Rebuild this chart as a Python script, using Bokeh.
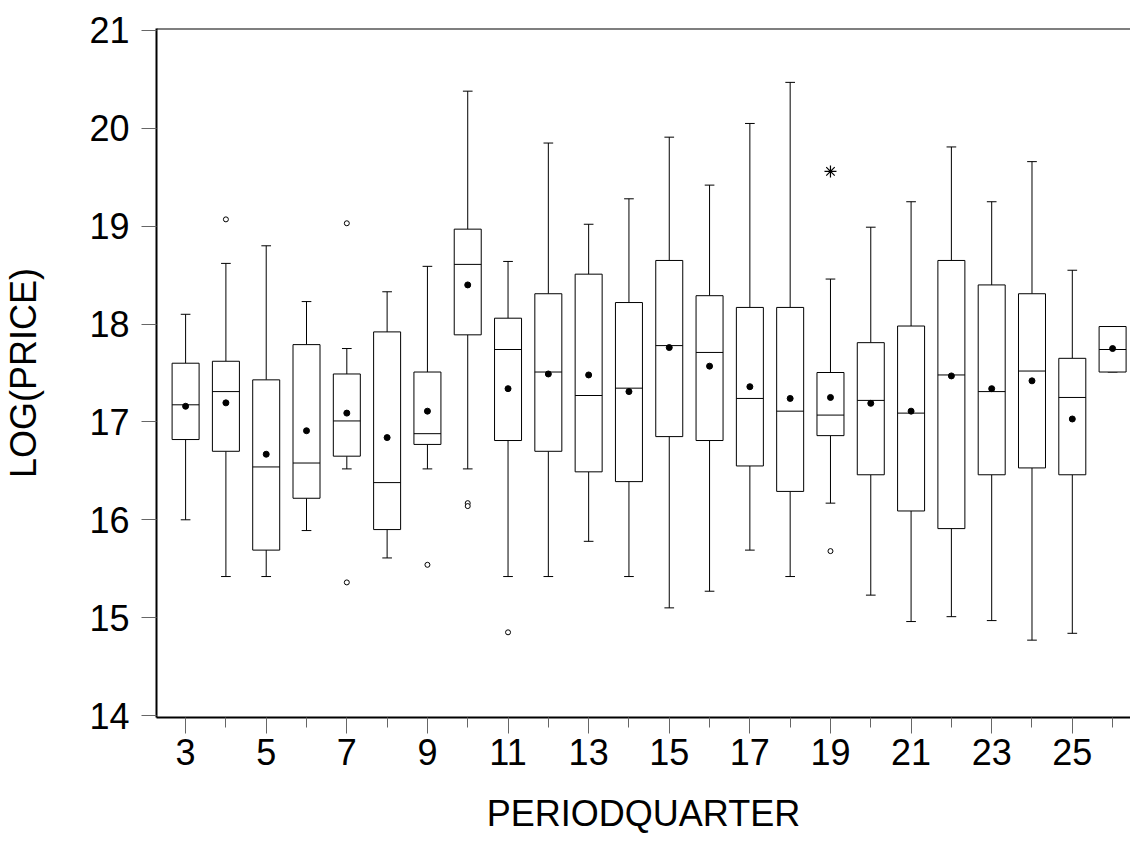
from bokeh.plotting import figure
from bokeh.models import Range1d, FixedTicker, Span
from bokeh.embed import file_html
from bokeh.resources import INLINE

# ---- data ----
periods = [3, 4, 5, 6, 7, 8, 9, 10, 11, 12, 13, 14, 15, 16, 17, 18, 19, 20, 21, 22, 23, 24, 25, 26]
whisker_hi = [18.10, 18.62, 18.80, 18.23, 17.75, 18.33, 18.59, 20.38, 18.64, 19.85, 19.02, 19.28,
              19.91, 19.42, 20.05, 20.47, 18.46, 18.99, 19.25, 19.81, 19.25, 19.66, 18.55, 17.975]
q3 = [17.60, 17.62, 17.43, 17.79, 17.49, 17.92, 17.51, 18.97, 18.06, 18.31, 18.51, 18.22,
      18.65, 18.29, 18.17, 18.17, 17.505, 17.81, 17.98, 18.65, 18.40, 18.31, 17.65, 17.975]
median = [17.175, 17.31, 16.54, 16.58, 17.01, 16.38, 16.88, 18.61, 17.74, 17.51, 17.27, 17.345,
          17.78, 17.71, 17.24, 17.11, 17.07, 17.22, 17.09, 17.48, 17.31, 17.52, 17.25, 17.74]
mean = [17.16, 17.195, 16.67, 16.91, 17.09, 16.84, 17.11, 18.40, 17.34, 17.49, 17.48, 17.31,
        17.76, 17.57, 17.36, 17.24, 17.25, 17.19, 17.11, 17.47, 17.34, 17.42, 17.03, 17.75]
q1 = [16.82, 16.70, 15.69, 16.22, 16.65, 15.90, 16.77, 17.89, 16.81, 16.70, 16.49, 16.39,
      16.85, 16.81, 16.55, 16.29, 16.86, 16.46, 16.09, 15.91, 16.46, 16.53, 16.46, 17.51]
whisker_lo = [16.00, 15.42, 15.42, 15.89, 16.52, 15.61, 16.52, 16.52, 15.42, 15.42, 15.78, 15.42,
              15.10, 15.27, 15.69, 15.42, 16.17, 15.23, 14.96, 15.01, 14.97, 14.77, 14.84, 17.51]
outlier_period = [4, 7, 7, 9, 10, 10, 11, 19]
outlier_value = [19.07, 19.03, 15.36, 15.54, 16.17, 16.14, 14.85, 15.68]
far_outlier_period = [19]
far_outlier_value = [19.56]

x_ticks_major = [3, 5, 7, 9, 11, 13, 15, 17, 19, 21, 23, 25]
x_ticks_minor = [4, 6, 8, 10, 12, 14, 16, 18, 20, 22, 24, 26]
y_ticks = [14, 15, 16, 17, 18, 19, 20, 21]

# ---- figure ----
FONT = "Liberation Sans"
BOX_W = 0.67
CAP_W = 0.24

p = figure(width=1130, height=846, output_backend="svg", toolbar_location=None,
           x_range=Range1d(2.278, 26.444), y_range=Range1d(13.9796, 21.0204),
           min_border_left=151, min_border_right=0, min_border_top=28, min_border_bottom=129)
p.outline_line_color = None
p.grid.visible = False
p.background_fill_color = "white"
p.border_fill_color = "white"

# top frame line
p.add_layout(Span(location=21.0204, dimension="width", line_color="black", line_width=2))

# whiskers
p.segment(x0=periods, y0=q3, x1=periods, y1=whisker_hi, line_color="black", line_width=1)
p.segment(x0=periods, y0=q1, x1=periods, y1=whisker_lo, line_color="black", line_width=1)
# caps
p.segment(x0=[c - CAP_W / 2 for c in periods], y0=whisker_hi,
          x1=[c + CAP_W / 2 for c in periods], y1=whisker_hi, line_color="black", line_width=1)
p.segment(x0=[c - CAP_W / 2 for c in periods], y0=whisker_lo,
          x1=[c + CAP_W / 2 for c in periods], y1=whisker_lo, line_color="black", line_width=1)
# boxes
p.vbar(x=periods, width=BOX_W, top=q3, bottom=q1, fill_color="white",
       line_color="black", line_width=1)
# medians
p.segment(x0=[c - BOX_W / 2 for c in periods], y0=median,
          x1=[c + BOX_W / 2 for c in periods], y1=median, line_color="black", line_width=1)
# means
p.scatter(x=periods, y=mean, size=6, color="black", marker="circle")
# outliers
p.scatter(x=outlier_period, y=outlier_value, size=5, marker="circle",
          fill_color="white", line_color="black", line_width=1)
p.scatter(x=far_outlier_period, y=far_outlier_value, size=12, marker="asterisk",
          line_color="black", line_width=1.2)

# axes
xa = p.xaxis[0]
xa.ticker = FixedTicker(ticks=x_ticks_major, minor_ticks=x_ticks_minor)
xa.axis_label = "PERIODQUARTER"
xa.axis_line_width = 2
xa.axis_line_color = "black"
xa.major_tick_in = 0
xa.major_tick_out = 16
xa.minor_tick_in = 0
xa.minor_tick_out = 10
xa.major_tick_line_color = "#666666"
xa.minor_tick_line_color = "#666666"
xa.major_label_text_font = FONT
xa.major_label_text_font_size = "36px"
xa.major_label_text_color = "black"
xa.major_label_standoff = 5
xa.axis_label_text_font = FONT
xa.axis_label_text_font_size = "36px"
xa.axis_label_text_font_style = "normal"
xa.axis_label_text_color = "black"
xa.axis_label_standoff = 25

ya = p.yaxis[0]
ya.ticker = FixedTicker(ticks=y_ticks, minor_ticks=[])
ya.axis_label = "LOG(PRICE)"
ya.axis_line_width = 2
ya.axis_line_color = "black"
ya.major_tick_in = 0
ya.major_tick_out = 15
ya.minor_tick_out = 0
ya.major_tick_line_color = "#666666"
ya.major_label_text_font = FONT
ya.major_label_text_font_size = "36px"
ya.major_label_text_color = "black"
ya.major_label_standoff = 12
ya.axis_label_text_font = FONT
ya.axis_label_text_font_size = "36px"
ya.axis_label_text_font_style = "normal"
ya.axis_label_text_color = "black"
ya.axis_label_standoff = 42

open("out.html", "w").write(file_html(p, INLINE))
